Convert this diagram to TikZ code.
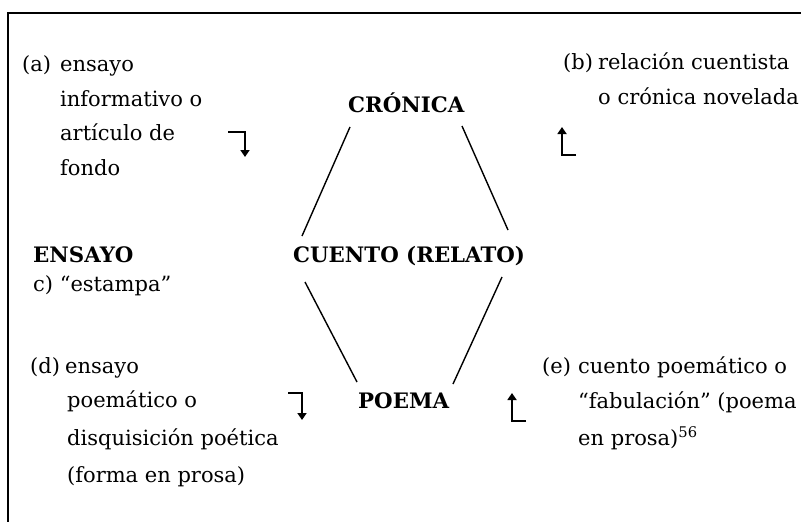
\documentclass[tikz,border=0pt]{standalone}
\usepackage{fontspec}
\setmainfont{DejaVu Serif}
\usetikzlibrary{arrows.meta,calc}
\begin{document}
\begin{tikzpicture}[x=1pt,y=-1pt,
  txt/.style={anchor=base west,inner sep=0pt,font=\fontsize{21}{25}\selectfont},
  hd/.style={anchor=base west,inner sep=0pt,font=\fontsize{21.3}{25}\selectfont\bfseries},
  edge/.style={line width=1.4pt},
  bent/.style={line width=2.6pt,-{Triangle[length=7pt,width=9pt]}}]
\useasboundingbox (0,0) rectangle (801,522);
\fill[white] (0,0) rectangle (801,522);
\draw[line width=2pt] (8,523) -- (8,13) -- (802,13);
% texts
\node[txt] (alab) at (22,71) {(a)};
\node[txt] (a1) at (60,71) {ensayo};
\node[txt] (a2) at (60,106) {informativo o};
\node[txt] (a3) at (60,140) {artículo de};
\node[txt] (a4) at (60,175) {fondo};
\node[hd] (cron) at (348,112) {CRÓNICA};
\node[txt] (blab) at (563,69) {(b)};
\node[txt] (b1) at (598,69) {relación cuentista};
\node[txt] (b2) at (598,104) {o crónica novelada};
\node[hd] (ens) at (33,262) {ENSAYO};
\node[hd] (cuen) at (293,262) {CUENTO (RELATO)};
\node[txt] (c) at (33,291) {c) “estampa”};
\node[txt] (dlab) at (30,373) {(d)};
\node[txt] (d1) at (65,373) {ensayo};
\node[txt] (d2) at (67,407) {poemático o};
\node[txt] (d3) at (67,445) {disquisición poética};
\node[txt] (d4) at (67,482) {(forma en prosa)};
\node[hd] (poema) at (358,408) {POEMA};
\node[txt] (elab) at (542,373) {(e)};
\node[txt] (e1) at (578,373) {cuento poemático o};
\node[txt] (e2) at (578,408) {“fabulación” (poema};
\node[txt] (e3) at (578,445) {en prosa)\textsuperscript{56}};
% connectors
\draw[edge] ($(cron.base west)+(2,15)$) -- ($(cuen.base west)+(9,-26)$);
\draw[edge] ($(cron.base west)+(114,14)$) -- ($(cuen.base west)+(215,-32)$);
\draw[edge] ($(cuen.base west)+(12,20)$) -- ($(poema.base west)+(-1,-26)$);
\draw[edge] ($(cuen.base west)+(209,15)$) -- ($(poema.base west)+(95,-24)$);
% bent arrows
\coordinate (aA) at (228,132); \coordinate (aB) at (245,132); \coordinate (aC) at (245,157);
\coordinate (bA) at (576,155); \coordinate (bB) at (562,155); \coordinate (bC) at (562,127);
\coordinate (dA) at (288,393); \coordinate (dB) at (302,393); \coordinate (dC) at (302,420);
\coordinate (eA) at (526,421); \coordinate (eB) at (512,421); \coordinate (eC) at (512,393);
\draw[bent] (aA) -- (aB) -- (aC);
\draw[bent] (bA) -- (bB) -- (bC);
\draw[bent] (dA) -- (dB) -- (dC);
\draw[bent] (eA) -- (eB) -- (eC);
\end{tikzpicture}
\end{document}
